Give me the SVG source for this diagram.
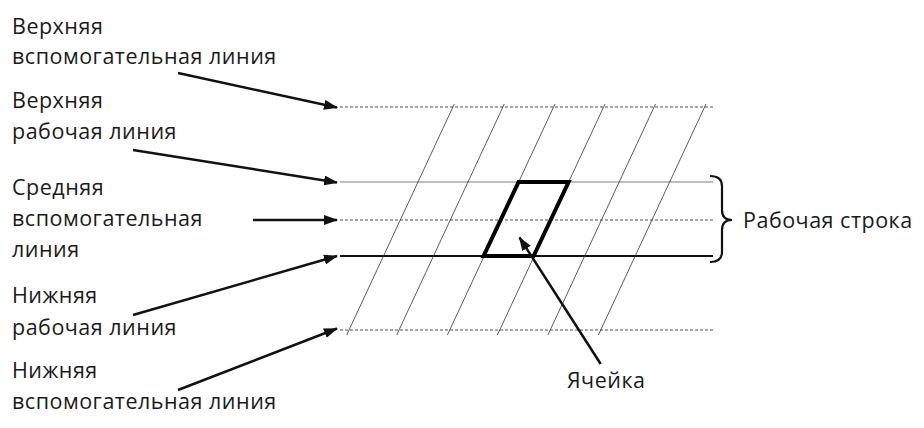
<svg xmlns="http://www.w3.org/2000/svg" width="924" height="428" viewBox="0 0 924 428">
<defs>
<marker id="ah" viewBox="0 0 14 10" refX="13" refY="5" markerWidth="14" markerHeight="10" markerUnits="userSpaceOnUse" orient="auto">
<path d="M0,0 L14,5 L0,10 Z" fill="#111"/>
</marker>
<style>
text{font-family:"Open Sans","Noto Sans","Liberation Sans",sans-serif;font-size:21.5px;letter-spacing:0.5px;fill:#1a1a1a}
.dot{stroke:#8a8a8a;stroke-width:1.3;stroke-dasharray:3 2;fill:none}
.slant{stroke:#333;stroke-width:0.8;fill:none}
.arr{stroke:#111;stroke-width:2.5;fill:none;marker-end:url(#ah)}
</style>
</defs>
<rect width="924" height="428" fill="#fff"/>
<g id="guide-lines">
<line class="dot" x1="340" y1="107" x2="713" y2="107"/>
<line x1="340" y1="182" x2="713" y2="182" stroke="#a8a8a8" stroke-width="1.5"/>
<line class="dot" x1="340" y1="220" x2="713" y2="220"/>
<line x1="340" y1="256" x2="713" y2="256" stroke="#111" stroke-width="2"/>
<line class="dot" x1="340" y1="330" x2="713" y2="330"/>
</g>
<g id="slant-lines">
<line class="slant" x1="454.3" y1="104" x2="346.7" y2="335"/>
<line class="slant" x1="504.3" y1="104" x2="396.7" y2="335"/>
<line class="slant" x1="555" y1="104" x2="447.4" y2="335"/>
<line class="slant" x1="605" y1="104" x2="497.4" y2="335"/>
<line class="slant" x1="655.5" y1="104" x2="547.9" y2="335"/>
<line class="slant" x1="706" y1="104" x2="598.4" y2="335"/>
</g>
<g id="cell">
<path d="M518.6,182 L568.6,182 L533.6,256 L483.6,256 Z" fill="none" stroke="#000" stroke-width="4" stroke-linejoin="miter"/>
</g>
<g id="brace">
<path d="M710,176 Q722,176 722,186 L722,210 Q722,220 732,220 Q722,220 722,230 L722,252 Q722,262 710,262" fill="none" stroke="#111" stroke-width="2.2"/>
</g>
<g id="labels">
<text x="12" y="34">Верхняя</text>
<text x="12" y="64">вспомогательная линия</text>
<text x="12" y="108">Верхняя</text>
<text x="12" y="139">рабочая линия</text>
<text x="12" y="195">Средняя</text>
<text x="12" y="226">вспомогательная</text>
<text x="12" y="257">линия</text>
<text x="12" y="303">Нижняя</text>
<text x="12" y="335">рабочая линия</text>
<text x="12" y="378">Нижняя</text>
<text x="12" y="409">вспомогательная линия</text>
<text x="743" y="228">Рабочая строка</text>
<text x="567" y="388">Ячейка</text>
</g>
<g id="connectors">
<line class="arr" x1="178" y1="73" x2="337" y2="107.5"/>
<line class="arr" x1="133" y1="150" x2="337" y2="182.5"/>
<line class="arr" x1="253" y1="220" x2="337" y2="220"/>
<line class="arr" x1="133" y1="315" x2="337" y2="256"/>
<line class="arr" x1="178" y1="390" x2="337" y2="328.5"/>
<line class="arr" x1="600.7" y1="364" x2="519.5" y2="237.5"/>
</g>
</svg>
